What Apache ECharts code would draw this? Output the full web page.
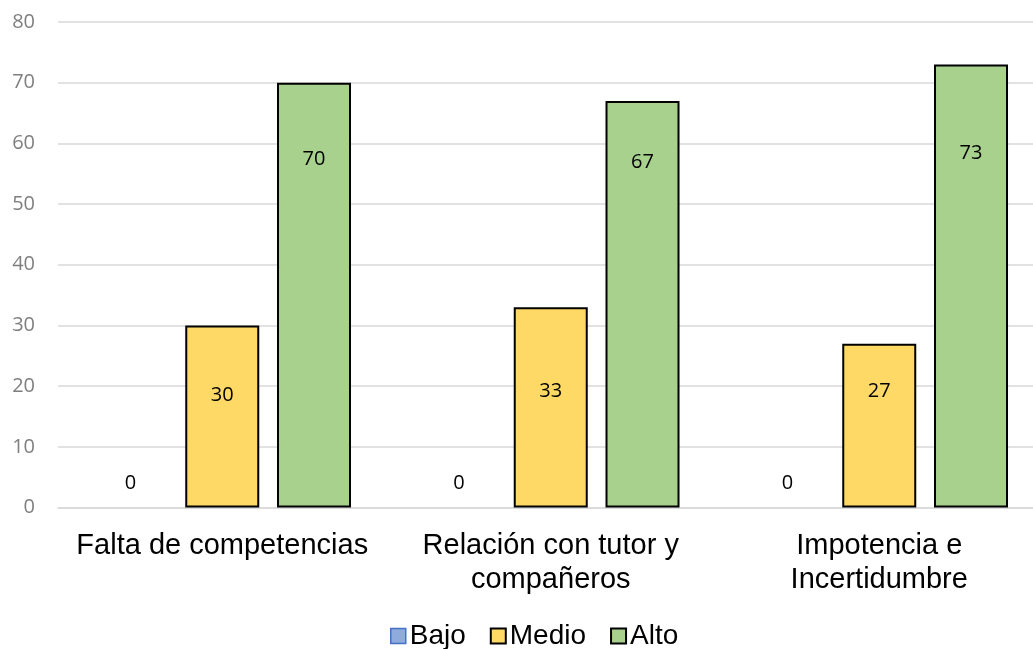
<!DOCTYPE html>
<html>
<head>
<meta charset="utf-8">
<script src="https://cdn.jsdelivr.net/npm/echarts@6/dist/echarts.min.js"></script>
<style>
html,body{margin:0;padding:0;background:#fff;}
#chart{width:1033px;height:649px;}
</style>
</head>
<body>
<div id="chart"></div>
<script>
// ---- data ----
const categories = ['Falta de competencias', 'Relación con tutor y\ncompañeros', 'Impotencia e\nIncertidumbre'];
const bajo = [0, 0, 0];
const medio = [30, 33, 27];
const alto = [70, 67, 73];
const yTicks = { min: 0, max: 80, interval: 10 };

// ---- styling (label placement, px) ----
const medioLabelDist = [60, 74, 38];
const altoLabelDist = [67, 51, 79];

const labelFont = { fontFamily: 'Open Sans', fontSize: 20, color: '#000' };

function items(vals, dists) {
  return vals.map((v, i) => ({
    value: v,
    label: { position: 'insideTop', distance: dists[i] }
  }));
}

const chart = echarts.init(document.getElementById('chart'), null, { renderer: 'canvas' });
chart.setOption({
  animation: false,
  backgroundColor: '#fff',
  grid: { left: 58, right: -10.5, top: 22, bottom: 141.5, containLabel: false, outerBoundsMode: 'none' },
  legend: {
    top: 622,
    left: 390,
    padding: 0,
    itemWidth: 15,
    itemHeight: 15,
    itemGap: 24,
    icon: 'rect',
    textStyle: { fontFamily: 'Liberation Sans', fontSize: 28, color: '#000', padding: [0, 0, 0, -1] },
    data: [
      { name: 'Bajo', itemStyle: { borderColor: '#4472c4', borderWidth: 1.5 } },
      'Medio',
      'Alto'
    ]
  },
  xAxis: {
    type: 'category',
    data: categories,
    axisLine: { lineStyle: { color: '#d9d9d9', width: 1.5 } },
    axisTick: { show: false },
    axisLabel: { fontFamily: 'Liberation Sans', fontSize: 29, color: '#000', margin: 22, lineHeight: 33.5, interval: 0 }
  },
  yAxis: {
    type: 'value',
    min: yTicks.min, max: yTicks.max, interval: yTicks.interval,
    axisLine: { show: false },
    axisTick: { show: false },
    splitLine: { lineStyle: { color: '#d9d9d9', width: 1.5 } },
    axisLabel: { fontFamily: 'Open Sans', fontSize: 20, color: '#7f7f7f', margin: 23 }
  },
  series: [
    {
      name: 'Bajo', type: 'bar', data: bajo, barWidth: 74, barGap: '24%',
      itemStyle: { color: '#8faadc', borderWidth: 0 },
      label: Object.assign({ show: true, position: 'top', distance: 14 }, labelFont)
    },
    {
      name: 'Medio', type: 'bar', data: items(medio, medioLabelDist), barWidth: 74, barGap: '24%',
      itemStyle: { color: '#ffd966', borderColor: '#000', borderWidth: 2 },
      label: Object.assign({ show: true }, labelFont)
    },
    {
      name: 'Alto', type: 'bar', data: items(alto, altoLabelDist), barWidth: 74, barGap: '24%',
      itemStyle: { color: '#a9d18e', borderColor: '#000', borderWidth: 2 },
      label: Object.assign({ show: true }, labelFont)
    }
  ]
});
</script>
</body>
</html>
